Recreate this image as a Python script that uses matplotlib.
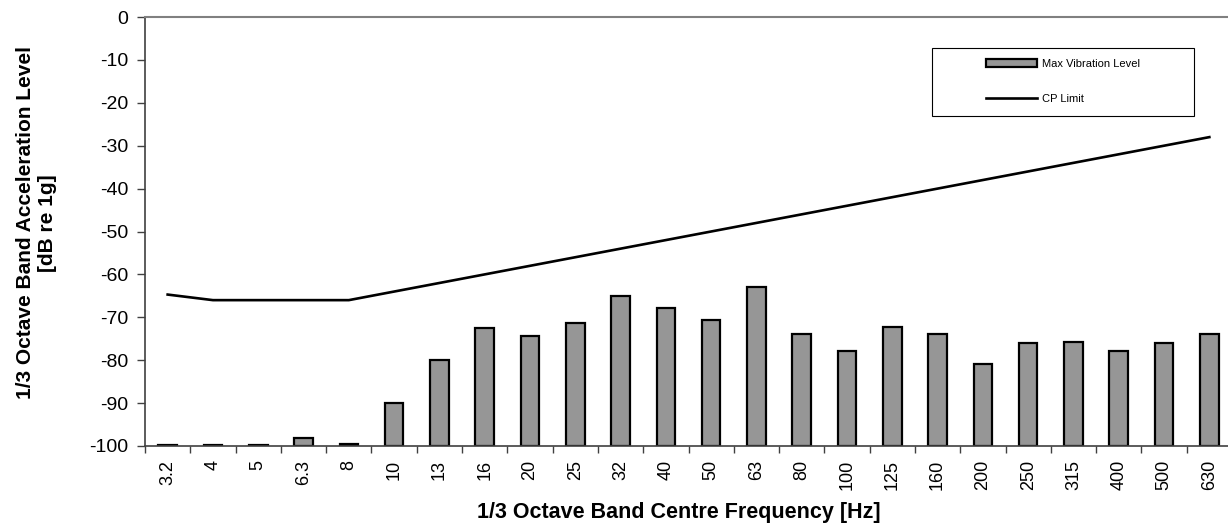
import matplotlib
matplotlib.use("Agg")
import matplotlib.pyplot as plt
import numpy as np
from matplotlib.patches import Rectangle
from matplotlib.lines import Line2D
from matplotlib.patches import Patch

plt.rcParams['font.family'] = ['Liberation Sans', 'DejaVu Sans']
plt.rcParams['axes.unicode_minus'] = False

# 1/3 octave band centre frequencies
bands = ['3.2', '4', '5', '6.3', '8', '10', '13', '16', '20', '25', '32', '40',
         '50', '63', '80', '100', '125', '160', '200', '250', '315', '400', '500', '630']
# measured max vibration level, dB re 1g
max_vib = [-99.8, -99.8, -99.8, -98.1, -99.6, -90, -80, -72.6, -74.3, -71.3, -65.1, -67.8,
           -70.7, -62.9, -73.9, -77.9, -72.3, -73.8, -81.0, -75.9, -75.8, -77.9, -75.9, -74.0]
# CP limit curve
cp_limit = [-64.7, -66, -66, -66, -66, -64, -62, -60, -58, -56, -54, -52,
            -50, -48, -46, -44, -42, -40, -38, -36, -34, -32, -30, -28]

base = -100
x = np.arange(len(bands))

fig = plt.figure(figsize=(12.28, 5.29), dpi=100)
ax = fig.add_axes([145/1228, 1-446/529, 1087/1228, 429/529])

heights = np.array(max_vib) - base
ax.bar(x, heights, bottom=base, width=0.41, color='#969696', edgecolor='black',
       linewidth=1.6, zorder=2)
ax.plot(x, cp_limit, color='black', linewidth=1.9, zorder=3)

ax.set_xlim(-0.5, len(bands) - 0.5)
ax.set_ylim(-100, 0)
ax.set_yticks(np.arange(-100, 1, 10))
ax.set_xticks(x)
ax.set_xticklabels(bands, rotation=90, fontsize=13)
ax.set_xticks(np.arange(-0.5, len(bands), 1), minor=True)
ax.tick_params(axis='x', which='major', length=0, pad=10)
ax.tick_params(axis='x', which='minor', length=5, width=1, color='#404040', direction='out')
ax.tick_params(axis='y', length=6, width=1, color='#404040', labelsize=14, pad=6)

for s in ['left', 'bottom']:
    ax.spines[s].set_color('#404040')
    ax.spines[s].set_linewidth(1.2)
ax.spines['top'].set_color('#808080')
ax.spines['top'].set_linewidth(1.5)
ax.spines['right'].set_visible(False)

ax.set_xlabel('1/3 Octave Band Centre Frequency [Hz]', fontsize=15.5, fontweight='bold')
ax.xaxis.set_label_coords(0.491, -0.13)
ax.set_ylabel('1/3 Octave Band Acceleration Level\n[dB re 1g]', fontsize=15,
              fontweight='bold', linespacing=1.2)
ax.yaxis.set_label_coords(-0.081, 0.52)

# legend box
fig.patches.append(Rectangle((932/1228, 1-116/529), 262/1228, 68/529,
                             transform=fig.transFigure, facecolor='white',
                             edgecolor='black', linewidth=0.8, zorder=5))
handles = [Patch(facecolor='#969696', edgecolor='black', linewidth=1.6),
           Line2D([], [], color='black', linewidth=1.9)]
leg = fig.legend(handles, ['Max Vibration Level', 'CP Limit'], loc='upper left',
                 bbox_to_anchor=(986/1228, 1-59/529), frameon=False, fontsize=8,
                 handlelength=4.6, handleheight=0.7, handletextpad=0.45,
                 labelspacing=2.25, borderpad=0, borderaxespad=0)
leg.set_zorder(6)

fig.savefig('out.png', dpi=100)
